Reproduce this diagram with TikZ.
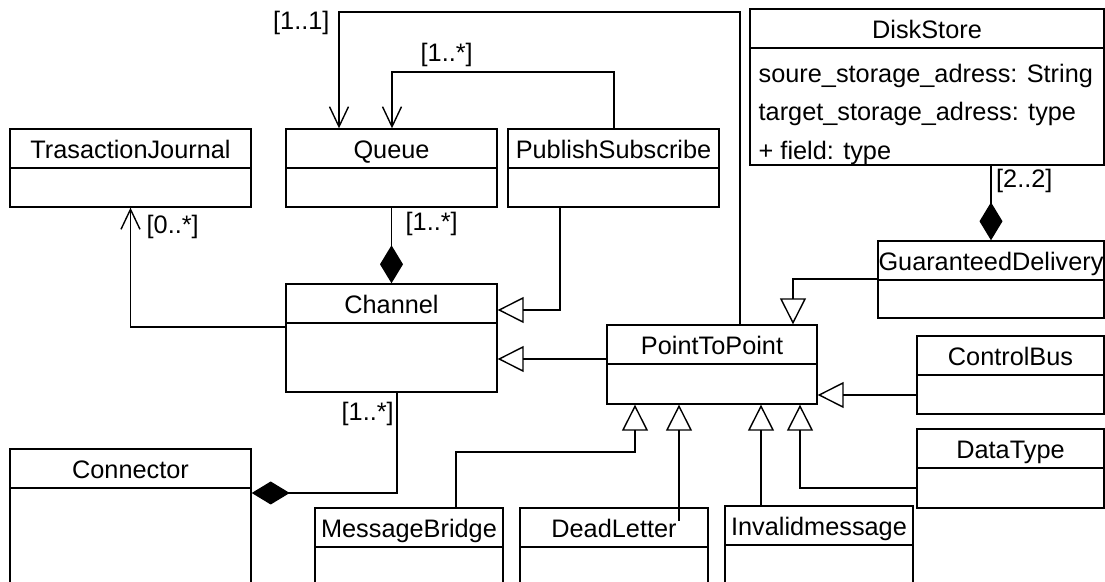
\documentclass[tikz,border=0pt]{standalone}
\usepackage{fontspec}
\setmainfont{Liberation Sans}
\usetikzlibrary{arrows.meta, fit}

\newcommand{\umlclass}[6]{%
  \node[classbox, fit={(#2,#3) (#4,#5)}] (#1) {};
  \draw (#2,#3+39) -- (#4,#3+39);
  \node[classname] (#1-name) at ({(#2+#4)/2},#3+30) {#6};
}

\begin{document}
\begin{tikzpicture}[x=0.5pt, y=-0.5pt, line width=0.7pt,
    classbox/.style={draw, rectangle, inner sep=0pt},
    classname/.style={anchor=base, inner sep=0pt, font=\fontsize{12.65}{15}\selectfont},
    attr/.style={anchor=base west, inner sep=0pt, font=\fontsize{12.65}{15}\selectfont},
    mult/.style={anchor=base west, inner sep=0pt, font=\fontsize{12.65}{15}\selectfont},
    assoc/.style={-{Straight Barb[length=10pt, width=9.5pt]}},
    gener/.style={-{Triangle[open, length=13pt, width=13pt]}},
    compos/.style={-{Diamond[length=19pt, width=11.5pt]}}]
  \useasboundingbox (0,0) rectangle (1105,582);
  \clip (0,0) rectangle (1105,582);

  \umlclass{tj}{10}{129}{251}{207}{TrasactionJournal}
  \umlclass{queue}{286}{129}{497}{207}{Queue}
  \umlclass{ps}{508}{129}{719}{207}{PublishSubscribe}
  \umlclass{ds}{750}{9}{1104}{165}{DiskStore}
  \umlclass{channel}{286}{284}{497}{392}{Channel}
  \umlclass{pp}{607}{325}{817}{404}{PointToPoint}
  \umlclass{gd}{878}{241}{1104}{318}{GuaranteedDelivery}
  \umlclass{cb}{917}{336}{1104}{414}{ControlBus}
  \umlclass{dt}{917}{429}{1104}{508}{DataType}
  \umlclass{connector}{10}{449}{251}{620}{Connector}
  \umlclass{mb}{315}{508}{503}{620}{MessageBridge}
  \umlclass{dl}{520}{508}{708}{620}{DeadLetter}
  \umlclass{im}{725}{506}{913}{620}{Invalidmessage}

  \node[attr] (ds-a1) at (758,82.5) {soure\_storage\_adress: String};
  \node[attr] (ds-a2) at (758,121) {target\_storage\_adress: type};
  \node[attr] (ds-a3) at (758,159.5) {+ field: type};

  \draw[assoc] (pp.north -| 740,0) |- (339,12) -- (queue.north -| 339,0);
  \draw[assoc] (ps.north -| 614,0) |- (392,72) -- (queue.north -| 392,0);
  \draw[assoc] (channel.west |- 0,327) -| (tj.south);
  \draw[compos] (queue.south) -- (channel.north);
  \draw[compos] (channel.south -| 397,0) |- (connector.east |- 0,493);
  \draw[compos] (ds.south -| gd.north) -- (gd.north);

  \draw[gener] (ps.south -| 560,0) |- (channel.east |- 0,310);
  \draw[gener] (pp.west |- 0,359) -- (channel.east |- 0,359);
  \draw[gener] (gd.west |- 0,279) -| (pp.north -| 793,0);
  \draw[gener] (cb.west |- 0,395) -- (pp.east |- 0,395);
  \draw[gener] (dt.west |- 0,488) -| (pp.south -| 800,0);
  \draw[gener] (im.north -| 761,0) -- (pp.south -| 761,0);
  \coordinate (dl-end) at (679,521);
  \draw[gener] (dl-end) -- (pp.south -| dl-end);
  \draw[gener] (mb.north -| 456,0) |- (635,452) -- (pp.south -| 635,0);

  \node[mult] (m-qq) at (272.5,30) {[1..1]};
  \node[mult] (m-pq) at (420,62) {[1..*]};
  \node[mult] (m-qc) at (405,231) {[1..*]};
  \node[mult] (m-tj) at (146,234) {[0..*]};
  \node[mult] (m-cc) at (341,421) {[1..*]};
  \node[mult] (m-dg) at (995.5,188) {[2..2]};
\end{tikzpicture}
\end{document}
